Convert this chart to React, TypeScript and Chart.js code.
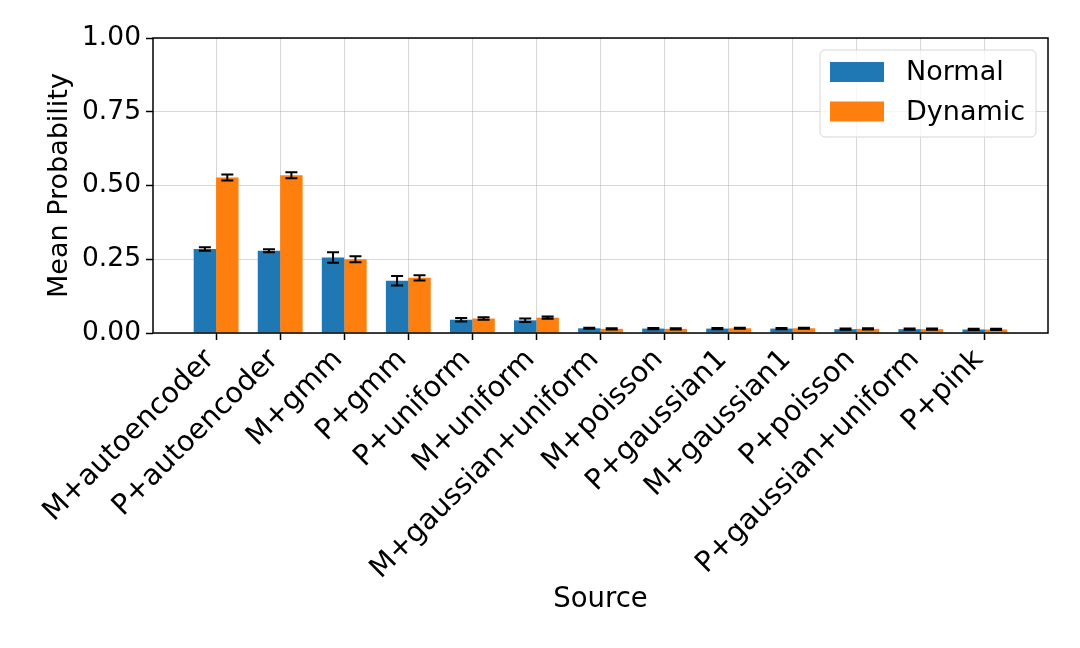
import { useEffect, useRef } from 'react'
import { Chart, registerables } from 'chart.js'

Chart.register(...registerables)

const sources = [
  'M+autoencoder',
  'P+autoencoder',
  'M+gmm',
  'P+gmm',
  'P+uniform',
  'M+uniform',
  'M+gaussian+uniform',
  'M+poisson',
  'P+gaussian1',
  'M+gaussian1',
  'P+poisson',
  'P+gaussian+uniform',
  'P+pink',
]
const normalMeans = [0.285, 0.279, 0.256, 0.177, 0.045, 0.043, 0.016, 0.015, 0.015, 0.015, 0.013, 0.013, 0.012]
const normalErrors = [0.006, 0.005, 0.018, 0.016, 0.006, 0.006, 0.002, 0.002, 0.002, 0.002, 0.002, 0.002, 0.002]
const dynamicMeans = [0.527, 0.535, 0.25, 0.187, 0.049, 0.052, 0.014, 0.014, 0.016, 0.016, 0.014, 0.013, 0.012]
const dynamicErrors = [0.01, 0.01, 0.01, 0.009, 0.004, 0.004, 0.002, 0.002, 0.002, 0.002, 0.002, 0.002, 0.002]
const yTicks = [0, 0.25, 0.5, 0.75, 1.0]

const blue = '#1f77b4'
const orange = '#ff7f0e'
const gridColor = 'rgba(176, 176, 176, 0.5)'
const fontFamily = "'DejaVu Sans', sans-serif"

// error bars drawn on top of the bars, through the y scale
const errorBarPlugin = {
  id: 'errorBars',
  afterDatasetsDraw(chart: any) {
    const { ctx } = chart
    const y = chart.scales.y
    const errs = [normalErrors, dynamicErrors]
    ctx.save()
    ctx.strokeStyle = '#000'
    ctx.lineWidth = 2
    chart.data.datasets.forEach((ds: any, di: number) => {
      const meta = chart.getDatasetMeta(di)
      meta.data.forEach((bar: any, i: number) => {
        const v = ds.data[i].y
        const e = errs[di][i]
        const top = y.getPixelForValue(v + e)
        const bot = y.getPixelForValue(v - e)
        ctx.beginPath()
        ctx.moveTo(bar.x, top)
        ctx.lineTo(bar.x, bot)
        ctx.moveTo(bar.x - 6, top)
        ctx.lineTo(bar.x + 6, top)
        ctx.moveTo(bar.x - 6, bot)
        ctx.lineTo(bar.x + 6, bot)
        ctx.stroke()
      })
    })
    ctx.restore()
  },
}

// matplotlib-like frame round the plot area
const framePlugin = {
  id: 'frame',
  afterDatasetsDraw(chart: any) {
    const { ctx, chartArea: a } = chart
    ctx.save()
    ctx.strokeStyle = '#000'
    ctx.lineWidth = 1.5
    ctx.strokeRect(a.left, a.top, a.right - a.left, a.bottom - a.top)
    ctx.restore()
  },
}

// legend box in the upper right corner
const legendPlugin = {
  id: 'boxLegend',
  afterDraw(chart: any) {
    const { ctx, chartArea: a } = chart
    const right = a.right - 12
    const top = a.top + 12
    const w = 216
    const h = 87
    const left = right - w
    ctx.save()
    ctx.fillStyle = 'rgba(255,255,255,0.8)'
    ctx.strokeStyle = '#d6d6d6'
    ctx.lineWidth = 1
    ctx.beginPath()
    ctx.roundRect(left, top, w, h, 5)
    ctx.fill()
    ctx.stroke()
    ctx.font = `27px ${fontFamily}`
    ctx.textBaseline = 'middle'
    ctx.textAlign = 'left'
    chart.data.datasets.forEach((ds: any, i: number) => {
      const cy = top + 22 + i * 39.5
      ctx.fillStyle = ds.backgroundColor
      ctx.fillRect(left + 10, cy - 10, 54, 20)
      ctx.fillStyle = '#000'
      ctx.fillText(ds.label, left + 86, cy + 1)
    })
    ctx.restore()
  },
}

export default function App() {
  const chartRef = useRef<HTMLCanvasElement>(null)
  const chartInstanceRef = useRef<Chart | null>(null)

  useEffect(() => {
    document.body.style.margin = '0'
    if (!chartRef.current) return
    const ctx = chartRef.current.getContext('2d')
    if (!ctx) return

    if (chartInstanceRef.current) {
      chartInstanceRef.current.destroy()
    }

    const padLeft = 40
    const padBottom = 28

    chartInstanceRef.current = new Chart(ctx, {
      type: 'bar',
      data: {
        datasets: [
          {
            label: 'Normal',
            data: normalMeans.map((y, i) => ({ x: i, y })),
            backgroundColor: blue,
            borderWidth: 0,
          },
          {
            label: 'Dynamic',
            data: dynamicMeans.map((y, i) => ({ x: i, y })),
            backgroundColor: orange,
            borderWidth: 0,
          },
        ],
      },
      options: {
        animation: false,
        responsive: true,
        maintainAspectRatio: false,
        categoryPercentage: 0.7,
        barPercentage: 1.0,
        layout: { padding: { left: padLeft, top: 38, right: 32, bottom: padBottom } },
        plugins: {
          legend: { display: false },
          tooltip: { enabled: false },
        },
        scales: {
          x: {
            type: 'linear',
            offset: false,
            min: -0.985,
            max: 12.985,
            afterBuildTicks: (axis: any) => {
              axis.ticks = sources.map((_, i) => ({ value: i }))
            },
            afterFit: (axis: any) => {
              axis.height = 648 - 333 - padBottom
            },
            ticks: {
              color: '#000',
              font: { family: fontFamily, size: 28.5 },
              minRotation: 45,
              maxRotation: 45,
              autoSkip: false,
              padding: 3,
              labelOffset: -6,
              callback: (value: any) => sources[value] ?? '',
            },
            grid: {
              offset: false,
              color: gridColor,
              lineWidth: 1,
              tickColor: '#000',
              tickLength: 7,
              tickWidth: 1.5,
            },
            border: { display: false },
            title: {
              display: true,
              text: 'Source',
              color: '#000',
              font: { family: fontFamily, size: 27.5 },
            },
          },
          y: {
            min: 0,
            max: 1,
            afterBuildTicks: (axis: any) => {
              axis.ticks = yTicks.map((value) => ({ value }))
            },
            afterFit: (axis: any) => {
              axis.width = 153 - padLeft
            },
            ticks: {
              color: '#000',
              font: { family: fontFamily, size: 26.5 },
              padding: 5,
              callback: (value: any) => Number(value).toFixed(2),
            },
            grid: { color: gridColor, lineWidth: 1, tickColor: '#000', tickLength: 7, tickWidth: 1.5 },
            border: { display: false },
            title: {
              display: true,
              text: 'Mean Probability',
              color: '#000',
              font: { family: fontFamily, size: 27 },
            },
          },
        },
      },
      plugins: [framePlugin, errorBarPlugin, legendPlugin],
    } as any)

    return () => {
      chartInstanceRef.current?.destroy()
      chartInstanceRef.current = null
    }
  }, [])

  return (
    <div style={{ width: 1080, height: 648, position: 'relative', background: '#fff' }}>
      <canvas ref={chartRef}></canvas>
    </div>
  )
}
